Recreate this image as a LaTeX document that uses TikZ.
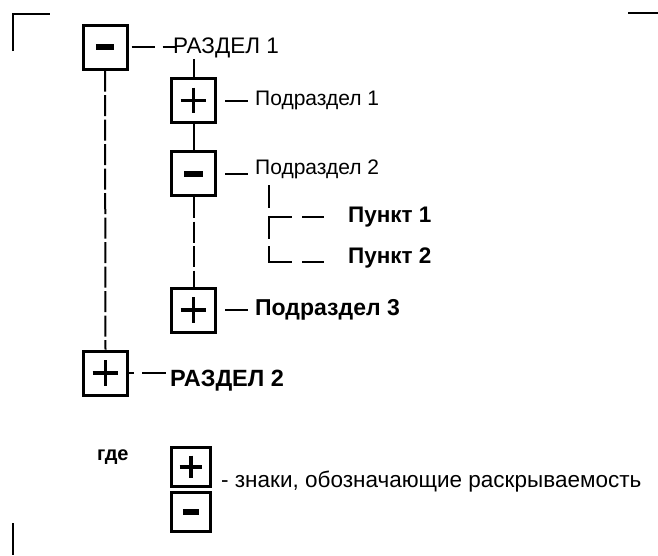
\documentclass[tikz,border=0pt]{standalone}
\usepackage{fontspec}
\setmainfont{Liberation Sans}
\usetikzlibrary{calc, positioning}
\tikzset{
    sbox/.style={draw, line width=3pt, inner sep=0pt},
    plussign/.style={line width=3.5pt},
    minussign/.style={line width=6pt},
    link/.style={line width=2pt},
    longdash/.style={link, dash pattern=on 21pt off 3.5pt},
    shortdash/.style={link, dash pattern=on 23pt off 8pt},
    corner/.style={line width=2.5pt},
    lbl/.style={inner sep=0pt, anchor=base west, font=\fontsize{21}{24}\selectfont},
    blbl/.style={lbl, font=\fontsize{22.5}{26}\selectfont\bfseries}
}
\newcommand{\plusbox}[3]{
    \node[sbox, minimum size=#3] (#1) at (#2) {};
    \draw[plussign] ($(#1)+(-0.29*#3,0)$) -- ($(#1)+(0.29*#3,0)$);
    \draw[plussign] ($(#1)+(0,-0.29*#3)$) -- ($(#1)+(0,0.29*#3)$);
}
\newcommand{\minusbox}[3]{
    \node[sbox, minimum size=#3] (#1) at (#2) {};
    \draw[minussign] ($(#1)+(-0.21*#3,0)$) -- ($(#1)+(0.21*#3,0)$);
}
\begin{document}
\begin{tikzpicture}[x=1pt, y=-1pt]
                    \useasboundingbox (0,0) rectangle (658,555);
                    % corner marks
                    \draw[corner] (13,51) -- (13,14) -- (50,14);
                    \draw[corner] (628,13) -- (658,13);
                    \draw[corner] (13,523) -- (13,555);
                    % boxes
                    \minusbox{b1}{105,47}{44}
                    \plusbox{b2}{193.5,100.5}{44}
                    \minusbox{b3}{193.5,173.5}{44}
                    \plusbox{b4}{193.5,310}{44}
                    \plusbox{b5}{105.5,373}{44}
                    % labels
                    \node[lbl, font=\fontsize{22.5}{26}\selectfont] (r1) at (173,53) {РАЗДЕЛ 1};
                    \node[lbl] (s1) at (255,105) {Подраздел 1};
                    \node[lbl] (s2) at (255,174) {Подраздел 2};
                    \node[blbl] (p1) at (348,222) {Пункт 1};
                    \node[blbl] (p2) at (348,263) {Пункт 2};
                    \node[lbl, font=\fontsize{23}{26}\selectfont\bfseries] (s3) at (255,315) {Подраздел 3};
                    \node[blbl, font=\fontsize{23.5}{26}\selectfont\bfseries] (r2) at (170,386) {РАЗДЕЛ 2};
                    \coordinate (fork) at (269,185);
                    \coordinate (p1end) at (324,217);
                    \coordinate (p2end) at (324,262);
                    \draw
                    (b1.east) edge[shortdash, shorten <=3pt, shorten >=-2pt] (b1.east -| r1.west)
                    (b2.east) edge[link, shorten <=8pt, shorten >=7pt] (b2.east -| s1.west)
                    (b3.east) edge[link, shorten <=8pt, shorten >=7pt] (b3.east -| s2.west)
                    (b4.east) edge[link, shorten <=8pt, shorten >=7pt] (b4.east -| s3.west)
                    (b5.east) edge[link, dash pattern=on 5pt off 8pt on 30pt, shorten >=4pt] (b5.east -| r2.west)
                    (b2.north) edge[link] ($(b2.north |- r1.south)+(0,1)$)
                    (b2.south) edge[link] (b3.north)
                    (b3.south) edge[longdash] (b4.north)
                    (b1.south) edge[longdash] (b5.north)
                    (fork) edge[shortdash] ($(fork |- p2end)+(0,-16)$)
                    (fork |- p1end) edge[link, dash pattern=on 23pt off 10pt] (p1end);
                    \draw[link, dash pattern=on 39pt off 10pt on 22pt] ($(fork |- p2end)+(0,-16)$) |- (p2end);
                    % legend
                    \node[lbl, font=\fontsize{20}{24}\selectfont\bfseries] (gde) at (97,460) {где};
                    \plusbox{lp}{191,467}{39}
                    \minusbox{lm}{191,512}{39}
                    \node[lbl, font=\fontsize{22.5}{26}\selectfont] (legend) at (221,487) {- знаки, обозначающие раскрываемость};
                \end{tikzpicture}
\end{document}
